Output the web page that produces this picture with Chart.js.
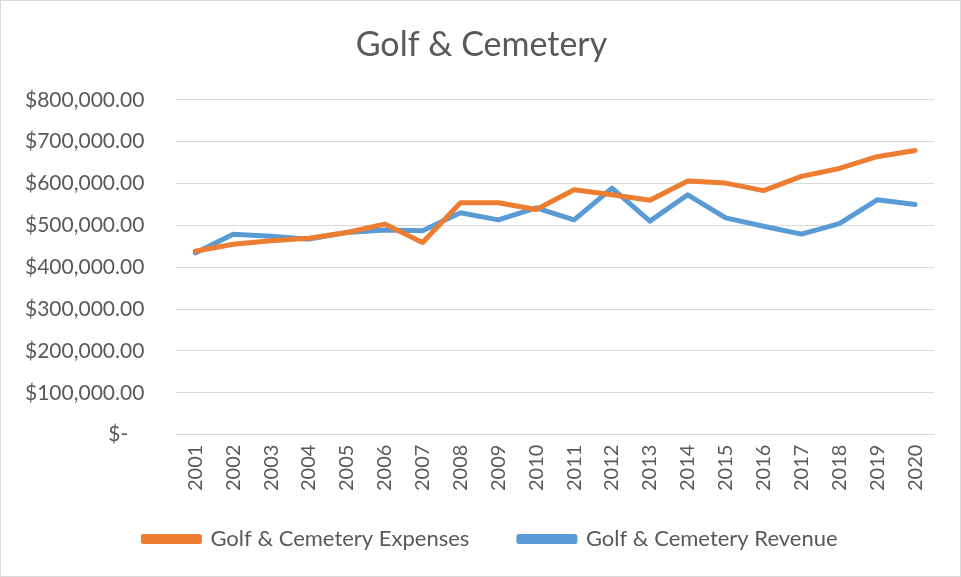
<!DOCTYPE html>
<html>
<head>
<meta charset="utf-8">
<script src="https://cdn.jsdelivr.net/npm/chart.js@4/dist/chart.umd.min.js"></script>
<style>
  html, body { margin: 0; padding: 0; background: #fff; }
  #wrap { width: 961px; height: 577px; box-sizing: border-box; border: 1px solid #d9d9d9; }
</style>
</head>
<body>
<div id="wrap"><canvas id="golfChart" width="959" height="575"></canvas></div>
<script>
// years on the x axis
var years = ["2001","2002","2003","2004","2005","2006","2007","2008","2009","2010",
             "2011","2012","2013","2014","2015","2016","2017","2018","2019","2020"];
// dollars
var expenses = [438000, 455000, 463000, 469000, 483000, 503000, 459000, 554000, 554000, 538000,
                585000, 573000, 560000, 606000, 601000, 583000, 617000, 636000, 664000, 679000];
var revenue  = [434000, 479000, 474000, 467000, 483000, 489000, 487000, 530000, 513000, 542000,
                513000, 589000, 510000, 573000, 518000, 498000, 479000, 504000, 561000, 550000];
var yMax = 800000;
var yStep = 100000;

var textColor = "#595959";
var gridColor = "#d9d9d9";
var fontFamily = "Lato, 'Open Sans', sans-serif";

const money = (v) => {
    if (v === 0) return "$-   ";
    return "$" + v.toLocaleString("en-US", { minimumFractionDigits: 2, maximumFractionDigits: 2 });
}

// default legend items, with some trailing room after the first one
const legendItems = (chart) => {
    var items = Chart.defaults.plugins.legend.labels.generateLabels(chart);
    items[0].text = items[0].text + "    ";
    return items;
}

// title and legend sit centred on the whole box in excel, not on the padded area
const recentre = {
    id: "recentre",
    afterLayout(chart) {
        if (chart.titleBlock) { chart.titleBlock.left += 18; chart.titleBlock.right += 18; }
        if (chart.legend) { chart.legend.left += 27; chart.legend.right += 27; }
    }
}

new Chart("golfChart", {
    type: "line",
    data: {
        labels: years,
        datasets: [{
            label: "Golf & Cemetery Expenses",
            data: expenses,
            borderColor: "#ed7d31",
            backgroundColor: "#ed7d31",
            borderWidth: 5,
            borderCapStyle: "round",
            borderJoinStyle: "round",
            pointRadius: 0,
            tension: 0
        }, {
            label: "Golf & Cemetery Revenue",
            data: revenue,
            borderColor: "#5b9bd5",
            backgroundColor: "#5b9bd5",
            borderWidth: 5,
            borderCapStyle: "round",
            borderJoinStyle: "round",
            pointRadius: 0,
            tension: 0
        }]
    },
    options: {
        responsive: false,
        animation: false,
        layout: { padding: { left: -8, right: 26, top: 0, bottom: 16 } },
        plugins: {
            title: {
                display: true,
                text: "Golf & Cemetery",
                color: textColor,
                font: { family: fontFamily, size: 34, weight: "normal" },
                padding: { top: 24, bottom: 34 }
            },
            legend: {
                position: "bottom",
                labels: {
                    color: textColor,
                    font: { family: fontFamily, size: 22 },
                    boxWidth: 56,
                    boxHeight: 5,
                    padding: 27,
                    generateLabels: legendItems
                }
            },
            tooltip: { enabled: false }
        },
        scales: {
            x: {
                offset: true,
                grid: { display: false, drawTicks: false },
                border: { display: true, color: gridColor, width: 1 },
                ticks: {
                    color: textColor,
                    font: { family: fontFamily, size: 20 },
                    minRotation: 90,
                    maxRotation: 90,
                    padding: 10
                }
            },
            y: {
                min: 0,
                max: yMax,
                grid: { color: gridColor, lineWidth: 1, drawTicks: false },
                border: { display: false },
                ticks: {
                    stepSize: yStep,
                    color: textColor,
                    font: { family: fontFamily, size: 21 },
                    padding: 32,
                    callback: money
                }
            }
        }
    },
    plugins: [recentre]
});
</script>
</body>
</html>
